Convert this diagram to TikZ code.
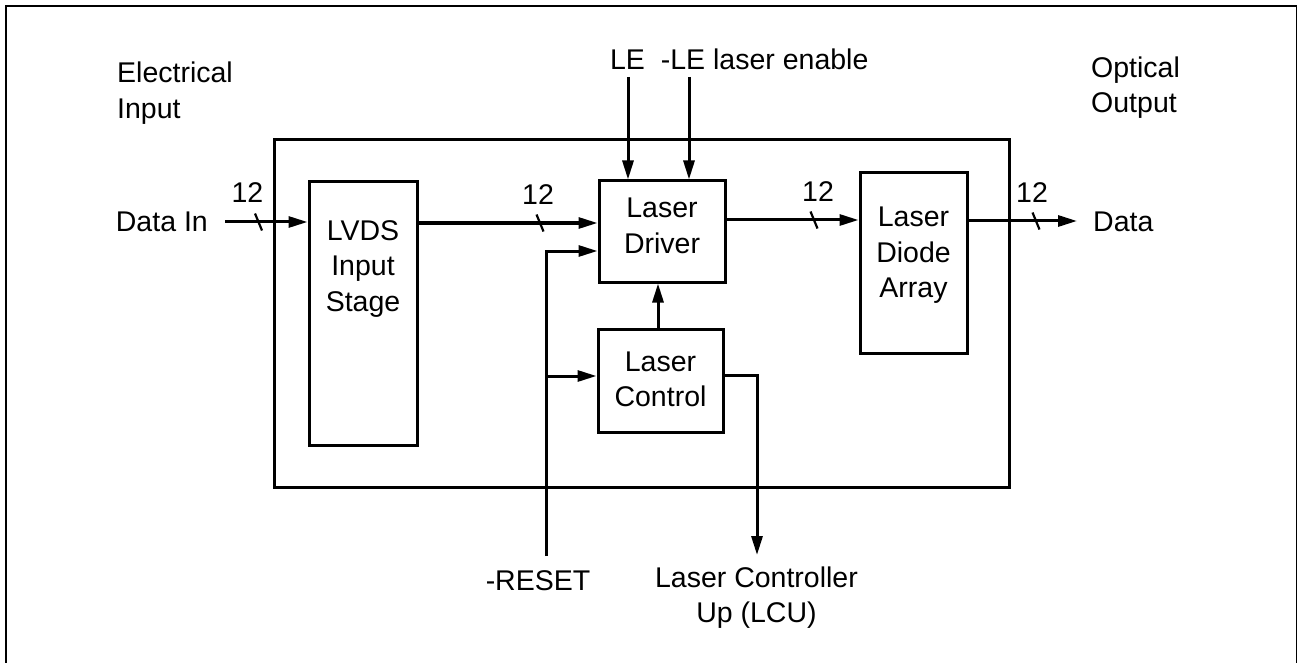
\documentclass[tikz,border=0pt]{standalone}
\usepackage{fontspec}
\setmainfont{Liberation Sans}
\usetikzlibrary{arrows.meta}
\begin{document}
\begin{tikzpicture}[x=1pt,y=-1pt,
  box/.style={draw,line width=3pt,inner sep=0pt,outer sep=1.5pt},
  lbl/.style={font=\fontsize{28.5}{35.5}\selectfont,inner sep=0pt,align=center},
  wire/.style={line width=3pt,line join=miter},
  arr/.style={wire,-{Triangle[length=19pt,width=11pt]}},
  busmark/.style={line width=2.2pt},
  frame/.style={line width=1.7pt}]
\useasboundingbox (0,0) rectangle (1298,663);
\draw[frame] (6,680) -- (6,6) -- (1296.5,6) -- (1296.5,680);

% boxes
\node[box,minimum width=735pt,minimum height=347pt] (main) at (641.5,313.5) {};
\node[box,minimum width=108pt,minimum height=263pt] (lvds) at (363,313.5) {};
\node[box,minimum width=126pt,minimum height=101pt] (drv) at (662,231.5) {};
\node[box,minimum width=125pt,minimum height=103pt] (ctl) at (660.5,380.5) {};
\node[box,minimum width=107pt,minimum height=180pt] (ldd) at (913.5,263) {};

% box texts
\node[lbl] (lvdst) at (363,269) {LVDS\\Input\\Stage};
\node[lbl] (drvt) at (662,226) {Laser\\Driver};
\node[lbl] (ctlt) at (660.5,379.5) {Laser\\Control};
\node[lbl] (lddt) at (913.5,255.5) {Laser\\Diode\\Array};

% outside texts
\node[lbl,align=left,anchor=west] (elin) at (117,93) {Electrical\\Input};
\node[lbl,align=left,anchor=west] (opout) at (1091,87.5) {Optical\\Output};
\node[lbl,anchor=base east] (dint) at (208,231) {Data In};
\node[lbl,anchor=base west] (doutt) at (1093,231) {Data};
\node[lbl,anchor=base] (let) at (627.5,69.3) {LE};
\node[lbl,anchor=base west] (nlet) at (660.7,69.3) {-LE laser enable};
\node[lbl,anchor=base] (rstt) at (538,590) {-RESET};
\node[lbl] (lcut) at (756.5,597.5) {Laser Controller\\Up (LCU)};

% bus widths
\node[lbl,anchor=base] (n1) at (247.5,203) {12};
\node[lbl,anchor=base] (n2) at (538,205) {12};
\node[lbl,anchor=base] (n3) at (818,201) {12};
\node[lbl,anchor=base] (n4) at (1032,203) {12};

% coordinates
\coordinate (din) at (225,222);
\coordinate (s1) at (258.5,222);
\coordinate (s2) at (540,223);
\coordinate (s3) at (814,220);
\coordinate (s4) at (1036,221);
\coordinate (dout) at (1077,221);
\coordinate (le1) at (628,77);
\coordinate (le2) at (689,77);
\coordinate (rst) at (546,556);
\coordinate (rj) at (546,251);
\coordinate (rb) at (546,376);
\coordinate (cd) at (658,300);
\coordinate (co) at (757,375);
\coordinate (lcu) at (757,555);

% connectors
\draw[arr] (din) -- (s1 -| lvds.west);
\draw[arr] (s2 -| lvds.east) -- (s2 -| drv.west);
\draw[arr] (s3 -| drv.east) -- (s3 -| ldd.west);
\draw[arr] (s4 -| ldd.east) -- (dout);
\draw[arr] (le1) -- (le1 |- drv.north);
\draw[arr] (le2) -- (le2 |- drv.north);
\draw[arr] (rst) -- (rj) -- (rj -| drv.west);
\draw[arr] (rb) -- (rb -| ctl.west);
\draw[arr] (cd |- ctl.north) -- (cd |- drv.south);
\draw[arr] (co -| ctl.east) -- (co) -- (lcu);

% bus slash marks
\foreach \s in {s1,s2,s3,s4}
  \draw[busmark,shift={(\s)}] (-3.5,-8.5) -- (3.5,8.5);
\end{tikzpicture}
\end{document}
